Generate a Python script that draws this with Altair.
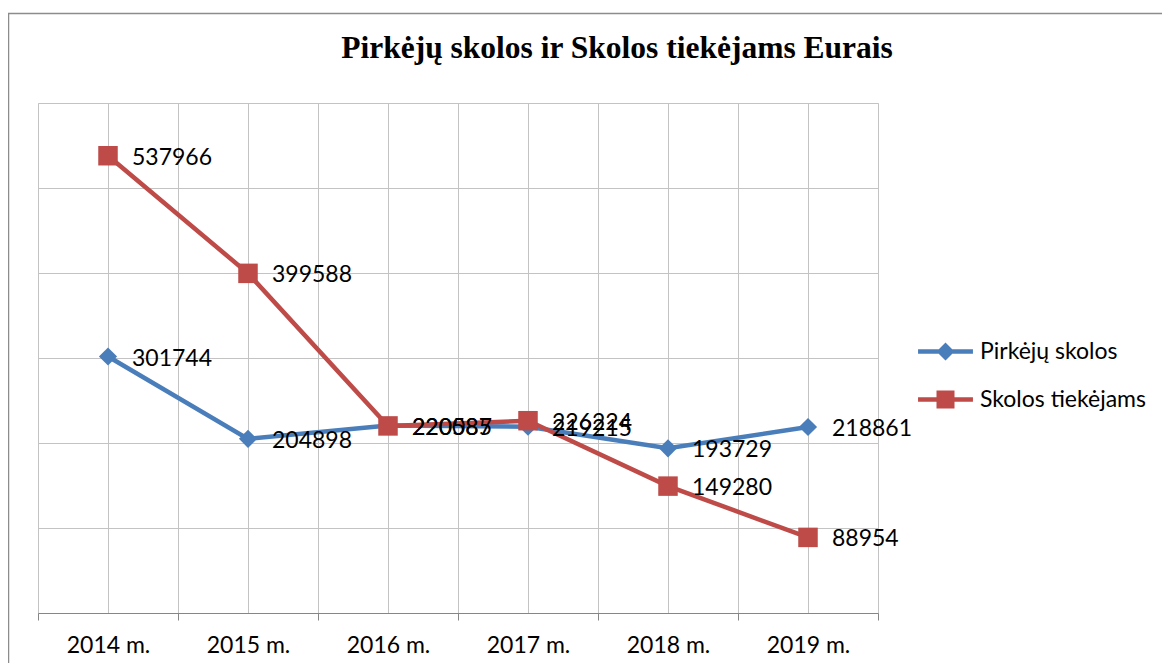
import json
import altair as alt
import pandas as pd

years = ["2014 m.", "2015 m.", "2016 m.", "2017 m.", "2018 m.", "2019 m."]
series_names = ["Pirkėjų skolos", "Skolos tiekėjams"]
pirkeju_skolos = [301744, 204898, 220585, 219215, 193729, 218861]
skolos_tiekejams = [537966, 399588, 220087, 226224, 149280, 88954]
colors = ["#4A7EBB", "#BE4B48"]
title_text = "Pirkėjų skolos ir Skolos tiekėjams Eurais"

rows = []
for name, vals in zip(series_names, [pirkeju_skolos, skolos_tiekejams]):
    for i, (yr, v) in enumerate(zip(years, vals)):
        rows.append({"i": i, "year": yr, "series": name, "value": v})
df = pd.DataFrame(rows)

FONT = "Lato"
label_expr = "datum.value % 1 === 0 ? " + json.dumps(years) + "[datum.value] : ''"

x_enc = alt.X(
    "i:Q",
    scale=alt.Scale(domain=[-0.5, 5.5], nice=False, zero=False),
    axis=alt.Axis(
        values=[k / 2 for k in range(-1, 12)],
        labelExpr=label_expr,
        grid=True,
        gridColor="#C3C3C3",
        domainColor="#868686",
        tickColor="#868686",
        tickSize=7,
        tickOpacity={"condition": {"test": "datum.value % 1 === 0", "value": 0}, "value": 1},
        labelFont=FONT,
        labelFontSize=23,
        labelColor="black",
        labelPadding=14,
        labelOverlap=False,
        labelFlush=False,
        title=None,
    ),
)
y_enc = alt.Y(
    "value:Q",
    scale=alt.Scale(domain=[0, 600000], nice=False),
    axis=alt.Axis(
        values=list(range(0, 600001, 100000)),
        labels=False,
        ticks=False,
        domain=False,
        grid=True,
        gridColor="#C3C3C3",
        title=None,
    ),
)

base = alt.Chart(df)
shapes = ["diamond", "square"]
sizes = [330, 380]

layers = []
for name, col, shp, sz in zip(series_names, colors, shapes, sizes):
    sub = base.transform_filter(alt.datum.series == name)
    layers.append(
        sub.mark_line(color=col, strokeWidth=4.5).encode(x=x_enc, y=y_enc)
    )
    layers.append(
        sub.mark_point(filled=True, color=col, shape=shp, size=sz, opacity=1).encode(
            x=x_enc, y=y_enc
        )
    )

labels = base.mark_text(
    align="left", baseline="middle", dx=24, dy=2, font=FONT, fontSize=23, color="black"
).encode(x=x_enc, y=y_enc, text=alt.Text("value:Q", format="d"))

diamond_path = "M-3.05,-0.24H3.05V0.24H-3.05Z M0,-1L1,0L0,1L-1,0Z"
square_path = "M-3.05,-0.24H3.05V0.24H-3.05Z M-1,-1H1V1H-1Z"
leg = alt.Legend(
    title=None,
    orient="none",
    legendX=896,
    legendY=237,
    padding=0,
    symbolSize=324,
    symbolOpacity=1,
    symbolStrokeWidth=0,
    labelFont=FONT,
    labelFontSize=23,
    labelColor="black",
    labelOffset=23,
    labelLimit=400,
    rowPadding=24,
)
legend_layer = base.mark_point(filled=True, opacity=0, size=324).encode(
    x=x_enc,
    y=y_enc,
    color=alt.Color(
        "series:N", scale=alt.Scale(domain=series_names, range=colors), legend=leg
    ),
    shape=alt.Shape(
        "series:N",
        scale=alt.Scale(domain=series_names, range=[diamond_path, square_path]),
        legend=leg,
    ),
)

one = alt.Chart(pd.DataFrame({"a": [0]}))
border_top = one.mark_rule(color="#8C8C8C", strokeWidth=1.5).encode(
    x=alt.value(-30), x2=alt.value(1200), y=alt.value(-89.5)
)
border_left = one.mark_rule(color="#8C8C8C", strokeWidth=1.5).encode(
    x=alt.value(-29.5), y=alt.value(-90), y2=alt.value(700)
)
title = one.mark_text(
    text=title_text,
    font="Liberation Serif",
    fontWeight="bold",
    fontSize=31.5,
    align="center",
    baseline="alphabetic",
    color="black",
).encode(x=alt.value(579), y=alt.value(-45))

chart = (
    alt.layer(border_top, border_left, title, *layers, labels, legend_layer)
    .resolve_scale(color="independent", shape="independent")
    .properties(
        width=840,
        height=510,
        autosize=alt.AutoSizeParams(type="none"),
        padding={"left": 30, "top": 95, "right": 284, "bottom": 50},
    )
    .configure_view(stroke=None)
    .configure(background="white")
)

chart.save("out.html", embed_options={"renderer": "svg", "actions": False})
